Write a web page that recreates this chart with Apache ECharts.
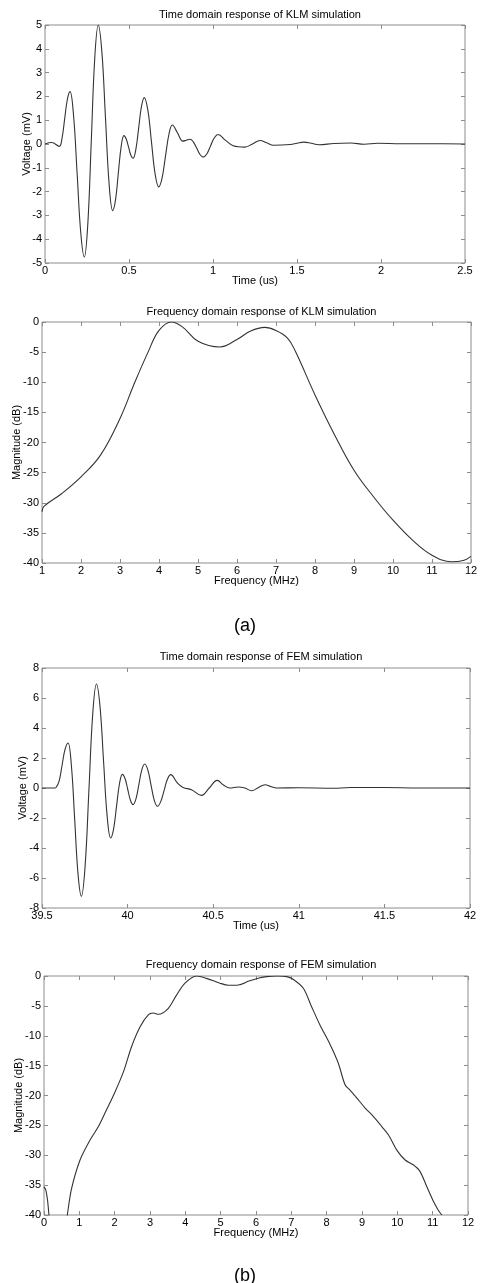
<!DOCTYPE html>
<html>
<head>
<meta charset="utf-8">
<title>KLM / FEM simulation</title>
<script src="https://cdn.jsdelivr.net/npm/echarts@6/dist/echarts.min.js"></script>
<style>
	html, body { margin: 0; padding: 0; background: #fff; }
	#chart { width: 481px; height: 1283px; }
</style>
</head>
<body>
<div id="chart"></div>
<script>
// KLM time domain (us, mV)
var klmTimeUs = [0, 0.04, 0.085, 0.101, 0.117, 0.133, 0.149, 0.17, 0.1915, 0.213, 0.234, 0.255, 0.2755, 0.296, 0.317,
	0.3385, 0.36, 0.3815, 0.403, 0.42, 0.4365, 0.4533, 0.47, 0.4835, 0.497, 0.5105, 0.524, 0.5408, 0.5575, 0.5743, 0.591,
	0.6125, 0.634, 0.6555, 0.677, 0.697, 0.7175, 0.738, 0.758, 0.789, 0.82, 0.8415, 0.863, 0.8825, 0.9025, 0.9225, 0.942,
	0.964, 0.986, 1.008, 1.03, 1.075, 1.12, 1.19, 1.235, 1.28, 1.32, 1.36, 1.46, 1.5, 1.54, 1.585, 1.63,
	1.72, 1.82, 1.9, 1.98, 2.12, 2.3, 2.5];
var klmVoltMv = [0, 0.06, -0.1, 0.23, 1.05, 1.87, 2.2, 1.19, -1.27, -3.74, -4.75, -3.34, 0.12, 3.59, 5.0,
	3.87, 1.1, -1.67, -2.8, -2.34, -1.22, -0.11, 0.35, 0.21, -0.12, -0.46, -0.6, -0.23, 0.67, 1.58, 1.95,
	1.41, 0.07, -1.26, -1.8, -1.42, -0.5, 0.42, 0.8, 0.46, 0.12, 0.16, 0.2, 0.09, -0.17, -0.44, -0.55,
	-0.41, -0.07, 0.26, 0.4, 0.15, -0.07, -0.13, 0.0, 0.15, 0.05, -0.05, -0.02, 0.03, 0.08, 0.03, -0.03,
	0.02, 0.04, -0.01, 0.03, 0.01, 0.01, 0];

// KLM frequency domain (MHz, dB)
var klmFreqMhz = [1, 1.05, 1.5, 2, 2.5, 3, 3.38, 3.72, 4, 4.32, 4.6, 5, 5.56, 6,
	6.35, 6.71, 7, 7.3, 7.5, 8, 8.5, 9, 9.5, 10, 10.5, 11, 11.5, 11.8, 12];
var klmMagDb = [-31.5, -30.6, -28.5, -25.7, -22.1, -16.0, -10, -5, -1.4, 0, -0.8, -3.2, -4.15, -2.9,
	-1.5, -0.9, -1.4, -2.7, -4.9, -12.1, -18.7, -24.6, -29, -32.9, -36.2, -38.7, -39.8, -39.6, -38.9];

// FEM time domain (us, mV)
var femTimeUs = [39.5, 39.574, 39.582, 39.5995, 39.617, 39.6345, 39.652, 39.6715, 39.691, 39.7105, 39.73,
	39.752, 39.774, 39.796, 39.818, 39.8388, 39.8595, 39.8803, 39.901, 39.9183, 39.9355, 39.9528, 39.97,
	39.9855, 40.001, 40.0165, 40.032, 40.049, 40.066, 40.083, 40.1, 40.1185, 40.137, 40.1555, 40.174,
	40.1935, 40.213, 40.2325, 40.252, 40.29, 40.324, 40.373, 40.431, 40.477, 40.523, 40.56, 40.597, 40.646,
	40.685, 40.724, 40.763, 40.802, 40.84, 40.87, 41.0, 41.2, 41.3, 41.5, 41.7, 42];
var femVoltMv = [0, 0, 0.03, 0.44, 1.5, 2.57, 3.0, 1.52, -2.11, -5.74, -7.22,
	-5.17, -0.15, 4.88, 6.93, 5.44, 1.8, -1.84, -3.33, -2.72, -1.21, 0.3, 0.91,
	0.62, -0.1, -0.82, -1.11, -0.72, 0.24, 1.21, 1.6, 1.19, 0.19, -0.81, -1.22,
	-0.91, -0.17, 0.58, 0.89, 0.35, 0.04, -0.11, -0.49, 0.0, 0.51, 0.2, 0.0, 0.07,
	0.0, -0.18, 0.02, 0.22, 0.08, 0.0, 0.02, -0.02, 0.03, 0.03, 0.0, 0];

// FEM frequency domain (MHz, dB) - the curve leaves the plot below -40 near 0.2 MHz
var femFreqLowMhz = [0, 0.05, 0.1, 0.14, 0.17];
var femMagLowDb = [-35.3, -35.8, -37.5, -40, -42];
var femFreqMhz = [0.62, 0.66, 0.78, 1.02, 1.3, 1.54, 1.77, 2.01, 2.25, 2.48, 2.72, 2.95, 3.09, 3.24, 3.52,
	3.75, 3.99, 4.32, 4.6, 4.98, 5.22, 5.5, 5.8, 6.11, 6.3, 6.6, 6.87, 7.05, 7.34, 7.57,
	7.81, 8.1, 8.33, 8.52, 8.66, 8.85, 9.09, 9.32, 9.56, 9.75, 9.98, 10.22, 10.45, 10.64, 10.83,
	11.02, 11.16, 11.26];
var femMagDb = [-42, -40, -35.6, -30.8, -27.5, -25.2, -22.4, -19.4, -16.0, -11.8, -8.5, -6.5, -6.2, -6.4, -5.4,
	-3.2, -1.2, 0, -0.4, -1.2, -1.55, -1.5, -0.85, -0.3, -0.1, 0, -0.1, -0.55, -2.06, -5.1,
	-8.2, -11.5, -14.6, -18.2, -19.1, -20.4, -22.1, -23.5, -25.2, -26.6, -29.1, -30.8, -31.6, -32.7, -35.2,
	-37.7, -39.2, -40];

var FONT = "'Liberation Sans', Arial, sans-serif";
var FRAME = "#8c8c8c";

function zip(xs, ys) {
	var arr = [];
	for (var i = 0; i < xs.length; i++) {
		arr.push([xs[i], ys[i]]);
	}
	return arr;
}

// one matlab style box per panel
var panels = [
	{ grid: { left: 45, top: 25, width: 420, height: 238 }, x: [0, 2.5, 0.5], y: [-5, 5, 1],
		xName: "Time (us)", yName: "Voltage (mV)", yGap: 13, titleTop: 4,
		title: "Time domain response of KLM simulation" },
	{ grid: { left: 42, top: 322, width: 429, height: 241 }, x: [1, 12, 1], y: [-40, 0, 5],
		xName: "Frequency (MHz)", yName: "Magnitude (dB)", yGap: 20, titleTop: 301,
		title: "Frequency domain response of KLM simulation" },
	{ grid: { left: 42, top: 668, width: 428, height: 240 }, x: [39.5, 42, 0.5], y: [-8, 8, 2],
		xName: "Time (us)", yName: "Voltage (mV)", yGap: 14, titleTop: 646,
		title: "Time domain response of FEM simulation" },
	{ grid: { left: 44, top: 976, width: 424, height: 239 }, x: [0, 12, 1], y: [-40, 0, 5],
		xName: "Frequency (MHz)", yName: "Magnitude (dB)", yGap: 20, titleTop: 954,
		title: "Frequency domain response of FEM simulation" }
];

var grids = [], xAxes = [], yAxes = [], titles = [];

panels.forEach(function (p, i) {
	grids.push({
		left: p.grid.left, top: p.grid.top, width: p.grid.width, height: p.grid.height,
		outerBoundsMode: "none", containLabel: false,
		show: true, borderColor: FRAME, borderWidth: 1, backgroundColor: "#fff"
	});
	titles.push({
		text: p.title, left: p.grid.left + p.grid.width / 2, top: p.titleTop, textAlign: "center",
		textStyle: { fontFamily: FONT, fontSize: 11, fontWeight: "normal", color: "#000" }
	});
	["bottom", "top"].forEach(function (pos) {
		var main = pos === "bottom";
		xAxes.push({
			type: "value", gridIndex: i, position: pos, min: p.x[0], max: p.x[1], interval: p.x[2],
			name: main ? p.xName : "", nameLocation: "middle", nameGap: 12, nameMoveOverlap: false,
			nameTextStyle: { fontFamily: FONT, fontSize: 11, color: "#000" },
			axisLine: { show: false, onZero: false },
			axisTick: { show: true, inside: true, length: 4, lineStyle: { color: FRAME } },
			axisLabel: { show: main, fontFamily: FONT, fontSize: 11, color: "#000", margin: 2,
				showMinLabel: true, showMaxLabel: true },
			splitLine: { show: false }
		});
	});
	["left", "right"].forEach(function (pos) {
		var main = pos === "left";
		yAxes.push({
			type: "value", gridIndex: i, position: pos, min: p.y[0], max: p.y[1], interval: p.y[2],
			name: main ? p.yName : "", nameLocation: "middle", nameGap: p.yGap, nameMoveOverlap: false,
			nameTextStyle: { fontFamily: FONT, fontSize: 11, color: "#000" },
			axisLine: { show: false, onZero: false },
			axisTick: { show: true, inside: true, length: 4, lineStyle: { color: FRAME } },
			axisLabel: { show: main, fontFamily: FONT, fontSize: 11, color: "#000", margin: 3,
				showMinLabel: true, showMaxLabel: true },
			splitLine: { show: false }
		});
	});
});

// (a) / (b) captions
titles.push({ text: "(a)", left: 240, top: 612, textAlign: "center",
	textStyle: { fontFamily: FONT, fontSize: 18, fontWeight: "normal", color: "#000" } });
titles.push({ text: "(b)", left: 240, top: 1262, textAlign: "center",
	textStyle: { fontFamily: FONT, fontSize: 18, fontWeight: "normal", color: "#000" } });

function lineSeries(idx, data, smooth) {
	return {
		type: "line", xAxisIndex: idx * 2, yAxisIndex: idx * 2, data: data,
		showSymbol: false, smooth: smooth, clip: true, animation: false,
		lineStyle: { color: "#333", width: 1.1 }
	};
}

var option = {
	animation: false,
	title: titles,
	grid: grids,
	xAxis: xAxes,
	yAxis: yAxes,
	series: [
		lineSeries(0, zip(klmTimeUs, klmVoltMv), 0.4),
		lineSeries(1, zip(klmFreqMhz, klmMagDb), 0.4),
		lineSeries(2, zip(femTimeUs, femVoltMv), 0.4),
		lineSeries(3, zip(femFreqLowMhz, femMagLowDb), 0.3),
		lineSeries(3, zip(femFreqMhz, femMagDb), 0.3)
	]
};

var myChart = echarts.init(document.getElementById("chart"), null, { renderer: "canvas" });
myChart.setOption(option);
</script>
</body>
</html>
